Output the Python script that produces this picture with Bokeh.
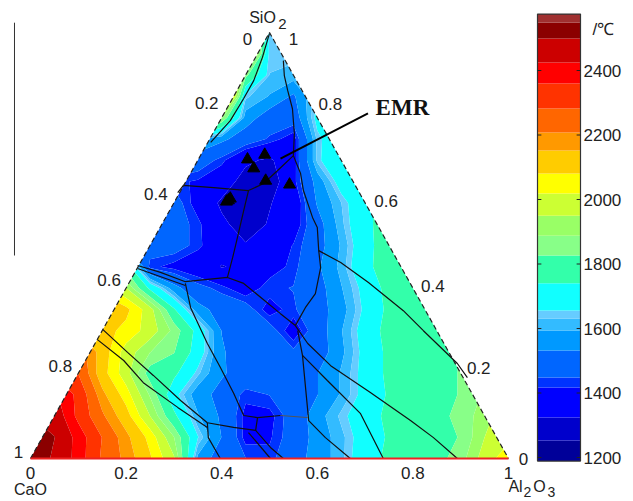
from bokeh.plotting import figure
from bokeh.models import Range1d
from bokeh.core.properties import value
from bokeh.embed import file_html
from bokeh.resources import INLINE
import numpy as np

N = float("nan")

# temperature field, deg C; columns: plane x 0..1, rows: SiO2 0..1
grid_x = [round(i * 0.05, 2) for i in range(21)]
grid_s = [round(i * 0.05, 2) for i in range(21)]
T00 = [2540,2490,2400,2270,2190,2090,1960,1580,1490,1450,1430,1500,1560,1620,1700,1760,1790,1800,1860,1985,2060]
T05 = [2530,2500,2400,2280,2170,2060,1890,1660,1530,1400,1410,1480,1560,1620,1690,1750,1790,1800,1830,1950,2000]
T10 = [2500,2480,2340,2220,2110,1950,1760,1600,1520,1400,1400,1480,1570,1640,1700,1760,1790,1810,1840,1930,1990]
T15 = [N,2440,2340,2170,2050,1880,1680,1560,1510,1430,1450,1470,1530,1600,1680,1750,1790,1800,1830,1900,N]
T20 = [N,2350,2280,2110,1980,1790,1760,1640,1540,1500,1480,1480,1530,1600,1680,1760,1790,1800,1830,1870,N]
T25 = [N,N,2250,2120,1990,1890,1830,1700,1540,1490,1480,1460,1490,1580,1680,1760,1790,1790,1830,N,N]
T30 = [N,N,2150,2110,2060,1990,1870,1710,1530,1500,1480,1380,1490,1590,1690,1770,1790,1790,1800,N,N]
T35 = [N,N,N,2150,2100,1980,1750,1560,1500,1480,1390,1440,1500,1570,1670,1760,1790,1790,N,N,N]
T40 = [N,N,N,2050,1950,1720,1560,1470,1430,1380,1440,1450,1500,1590,1680,1770,1790,1800,N,N,N]
T45 = [N,N,N,N,1800,1430,1400,1370,1320,1340,1390,1430,1520,1610,1720,1780,1810,N,N,N,N]
T50 = [N,N,N,N,1500,1480,1480,1430,1360,1330,1370,1420,1500,1600,1710,1790,1800,N,N,N,N]
T55 = [N,N,N,N,N,1490,1480,1430,1340,1290,1330,1380,1500,1620,1720,1780,N,N,N,N,N]
T60 = [N,N,N,N,N,1480,1480,1390,1310,1280,1320,1360,1540,1630,1720,1780,N,N,N,N,N]
T65 = [N,N,N,N,N,N,1430,1410,1370,1290,1270,1400,1560,1690,1790,N,N,N,N,N,N]
T70 = [N,N,N,N,N,N,1500,1490,1430,1340,1310,1390,1640,1740,1780,N,N,N,N,N,N]
T75 = [N,N,N,N,N,N,N,1600,1550,1490,1440,1390,1640,1720,N,N,N,N,N,N,N]
T80 = [N,N,N,N,N,N,N,2400,1900,1570,1490,1480,1680,1720,N,N,N,N,N,N,N]
T85 = [N,N,N,N,N,N,N,N,2400,1640,1590,1520,1660,N,N,N,N,N,N,N,N]
T90 = [N,N,N,N,N,N,N,N,2400,1850,1630,1620,1650,N,N,N,N,N,N,N,N]
T95 = [N,N,N,N,N,N,N,N,N,2200,1640,1640,N,N,N,N,N,N,N,N,N]
T100 = [N,N,N,N,N,N,N,N,N,2200,1640,1640,N,N,N,N,N,N,N,N,N]
temps = [T00,T05,T10,T15,T20,T25,T30,T35,T40,T45,T50,T55,T60,T65,T70,T75,T80,T85,T90,T95,T100]

levels = [1189,1253,1324,1417,1448,1532,1594,1631,1656,1740,1826,1888,1950,2019,2081,2152,2208,2282,2360,2425,2499,2549,2575]
band_colors = ["#000099","#0000cc","#0000ff","#0033ff","#0066ff","#0099ff","#33bbff","#66ccff","#11ffff","#33ffaa",
               "#88ff88","#99ff66","#ccff33","#ffff00","#ffcc00","#ff9900","#ff6600","#ff3300","#ff0000","#cc0000","#8b0000","#a03030"]
cbar_ticks = [1200,1400,1600,1800,2000,2200,2400]
cbar_text = ["1200","1400","1600","1800","2000","2200","2400"]

# phase boundaries: (plane x, SiO2)
b1 = [(.500,.998),(.485,.941),(.467,.887),(.446,.845),(.418,.793),(.377,.742)]
b2 = [(.529,.934),(.531,.899),(.538,.864),(.548,.821),(.552,.763),(.550,.711),(.565,.669),(.571,.629),(.590,.566),(.600,.542),(.603,.488),(.607,.448),(.596,.387),(.575,.354),(.554,.312)]
b3 = [(.550,.711),(.517,.676),(.487,.645),(.456,.629),(.383,.636),(.320,.641),(.308,.624)]
b4 = [(.456,.629),(.446,.582),(.433,.519),(.423,.472),(.412,.425)]
b5 = [(.224,.453),(.272,.437),(.324,.415),(.412,.425),(.446,.411),(.523,.340),(.554,.312)]
b6 = [(.224,.446),(.324,.406)]
b7 = [(.324,.411),(.335,.354),(.370,.270),(.397,.214),(.425,.153),(.446,.101),(.475,.096),(.523,.101)]
b8 = [(.370,.084),(.425,.073),(.471,.066),(.475,.096)]
b9 = [(.456,.061),(.502,0)]
b10 = [(.471,.066),(.502,.026),(.529,0)]
b11 = [(.151,.303),(.203,.249),(.257,.195),(.314,.136),(.370,.084)]
b12 = [(.140,.279),(.195,.230),(.236,.178),(.308,.120),(.370,.073)]
b13 = [(.370,.084),(.372,.049),(.397,0)]
b14 = [(.603,.488),(.649,.460),(.707,.413),(.780,.347),(.822,.300),(.893,.223),(.914,.190)]
b15 = [(.554,.312),(.580,.270),(.628,.218),(.711,.155),(.795,.089),(.843,.049),(.893,0)]
b16 = [(.559,.300),(.569,.242),(.621,.183),(.690,.106),(.738,0)]
b17 = [(.569,.242),(.582,.089),(.617,.049),(.669,0)]
faint = [(.523,.101),(.580,.096)]
boundaries = [b1,b2,b3,b4,b5,b6,b7,b8,b9,b10,b11,b12,b13,b14,b15,b16,b17]

# EMR samples
emr_x = [.454,.490,.467,.492,.542,.418,.410,.414]
emr_s = [.702,.713,.681,.652,.643,.610,.603,.606]

ticks = [0,.2,.4,.6,.8,1]
tick_text = ["0","0.2","0.4","0.6","0.8","1"]

FONT = value("Liberation Sans")
TXT = "#222222"

p = figure(width=633, height=501, output_backend="svg", toolbar_location=None,
           x_range=Range1d(-30/478, 603/478), y_range=Range1d(-43/426, 458/426),
           min_border=0, outline_line_color=None, background_fill_color="white")
p.xaxis.visible = False
p.yaxis.visible = False
p.grid.visible = False
# ranges of the colour bar, sharing the same canvas
p.extra_x_ranges["bar"] = Range1d(-537/43, (633-537)/43)
p.extra_y_ranges["T"] = Range1d(1063.6, 2400 + 70*200/64.5)

z = np.array(temps, dtype=float)
p.contour(np.array(grid_x), np.array(grid_s), z, levels=levels, fill_color=band_colors, line_color=None)

# white outside the triangle
p.patches([[-.07,0,.5,.5,-.07],[1.07,1,.5,.5,1.07]],
          [[0,0,1,1.08,1.08],[0,0,1,1.08,1.08]], fill_color="white", line_color=None)

for b in boundaries:
    xs, ys = zip(*b)
    p.line(list(xs), list(ys), line_color="#111111", line_width=1.2)
xs, ys = zip(*faint)
p.line(list(xs), list(ys), line_color="#555555", line_width=1)

# triangle sides
p.line([0,.5,1],[0,1,0], line_color="#222222", line_width=1.2, line_dash="5 3")
p.line([0,1],[0,0], line_color="#ee2222", line_width=2)

# leftover axis stroke
p.line([-.0335,-.0335],[1.023,.4765], line_color="#333333", line_width=1)

p.scatter(emr_x, emr_s, marker="triangle", size=12, fill_color="black", line_color="black")
p.line([.706,.523],[.810,.704], line_color="black", line_width=2)
p.text([.722],[.824], text=["EMR"], text_font=value("Liberation Serif"), text_font_style="bold",
       text_font_size="23px", text_baseline="middle", text_align="left", text_color="#111111")

def lab(t, x, y, dx, dy, size="17px"):
    p.text([x],[y], text=[t], x_offset=[dx], y_offset=[dy], text_font=FONT, text_font_size=size,
           text_align="center", text_baseline="middle", text_color=TXT)

for c_, t, dx, dy in zip(ticks, tick_text, [-22,-15,-18,-17,-18,-12], [6,-15,-9,-8,-7,-7]):
    lab(t, (1-c_)/2, 1-c_, dx, dy)
for s_, t, dx, dy in zip(ticks, tick_text, [15,18,20,21,13,24], [0,-5,-2,-2,-14,6]):
    lab(t, 1-s_/2, s_, dx, dy)
for a_, t in zip(ticks, tick_text):
    lab(t, a_, 0, 0, 14)

lab("CaO", 0, 0, 0, 31, "16px")
lab("SiO", .5, 1, -7, -15, "16px")
lab("2", .5, 1, 13, -9, "15px")
lab("Al", 1, 0, 7, 28, "16px")
lab("2", 1, 0, 19, 33, "14px")
lab("O", 1, 0, 31, 28, "16px")
lab("3", 1, 0, 43, 33, "14px")

# colour bar
p.quad(left=0, right=1, bottom=levels[:-1], top=levels[1:], fill_color=band_colors, line_color=None,
       x_range_name="bar", y_range_name="T")
p.quad(left=[0], right=[1], bottom=[levels[0]], top=[levels[-1]], fill_color=None, line_color="#333333", line_width=1.2,
       x_range_name="bar", y_range_name="T")
p.segment(x0=0, x1=.09, y0=cbar_ticks, y1=cbar_ticks, line_color="#222222", x_range_name="bar", y_range_name="T")
p.segment(x0=.91, x1=1, y0=cbar_ticks, y1=cbar_ticks, line_color="#222222", x_range_name="bar", y_range_name="T")
p.text([1]*7, cbar_ticks, text=cbar_text, x_offset=3, text_font=FONT, text_font_size="17px", text_align="left",
       text_baseline="middle", text_color=TXT, x_range_name="bar", y_range_name="T")
p.text([1.28],[2527], text=["/℃"], text_font=FONT, text_font_size="17px", text_align="left",
       text_baseline="middle", text_color=TXT, x_range_name="bar", y_range_name="T")

open("out.html","w").write(file_html(p, INLINE))
